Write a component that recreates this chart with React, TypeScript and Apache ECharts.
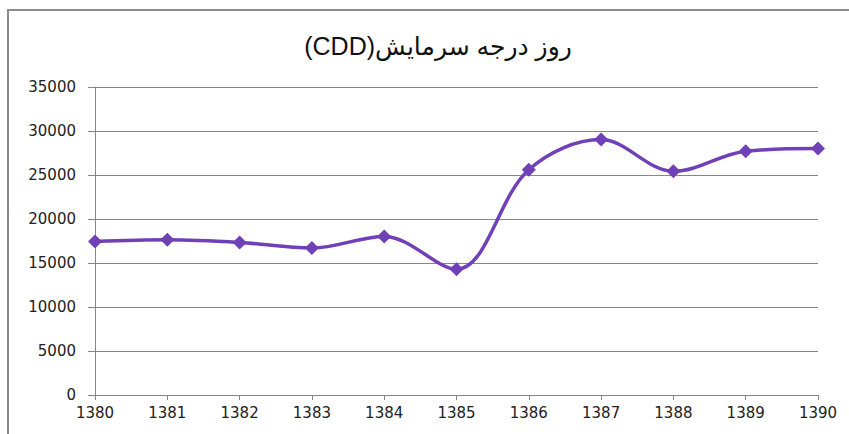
import React, { useEffect, useRef } from "react";
import * as echarts from "echarts";

const titleText = "\u202Bروز درجه سرمایش(CDD)\u202C";
const years = ["1380", "1381", "1382", "1383", "1384", "1385", "1386", "1387", "1388", "1389", "1390"];
const cddValues = [17450, 17640, 17340, 16700, 18020, 14300, 25600, 29020, 25420, 27700, 28000];
const yMin = 0;
const yMax = 35000;
const yStep = 5000;

export default function App() {
  const ref = useRef<HTMLDivElement>(null);
  useEffect(() => {
    if (!ref.current) return;
    const chart = echarts.init(ref.current, undefined, { renderer: "svg" });
    const font = "'DejaVu Sans', Verdana, sans-serif";
    chart.setOption({
      animation: false,
      backgroundColor: "#ffffff",
      title: {
        text: titleText,
        left: 433,
        top: 28,
        textAlign: "center",
        textStyle: {
          fontFamily: "'Liberation Sans', 'DejaVu Sans', Arial, sans-serif",
          fontSize: 25,
          fontWeight: "normal",
          color: "#111111",
        },
      },
      grid: { left: 95, right: 31, top: 87, bottom: 39, containLabel: false },
      xAxis: {
        type: "category",
        data: years,
        boundaryGap: false,
        axisLine: { show: true, lineStyle: { color: "#868686", width: 1 } },
        axisTick: { show: true, length: 5, lineStyle: { color: "#868686" } },
        axisLabel: { color: "#222222", fontFamily: font, fontSize: 15, margin: 10 },
        splitLine: { show: false },
      },
      yAxis: {
        type: "value",
        min: yMin,
        max: yMax,
        interval: yStep,
        axisLine: { show: true, lineStyle: { color: "#868686", width: 1 } },
        axisTick: { show: true, length: 7, lineStyle: { color: "#868686" } },
        axisLabel: {
          color: "#222222",
          fontFamily: font,
          fontSize: 15,
          margin: 19,
          formatter: (v: number) => String(v),
        },
        splitLine: { show: true, lineStyle: { color: "#868686", width: 1 } },
      },
      series: [
        {
          type: "line",
          data: cddValues,
          smooth: 0.35,
          symbol: "diamond",
          symbolSize: 14,
          lineStyle: { color: "#7040B8", width: 3.5 },
          itemStyle: { color: "#7040B8" },
        },
      ],
      graphic: [
        {
          type: "polyline",
          shape: { points: [[8, 434], [8, 10], [849, 10]] },
          style: { stroke: "#8a8a8a", lineWidth: 2, fill: "none" },
          silent: true,
        },
      ],
    });
    return () => chart.dispose();
  }, []);
  return (
    <div
      ref={ref}
      style={{ position: "absolute", left: 0, top: 0, width: 849, height: 434 }}
    />
  );
}
